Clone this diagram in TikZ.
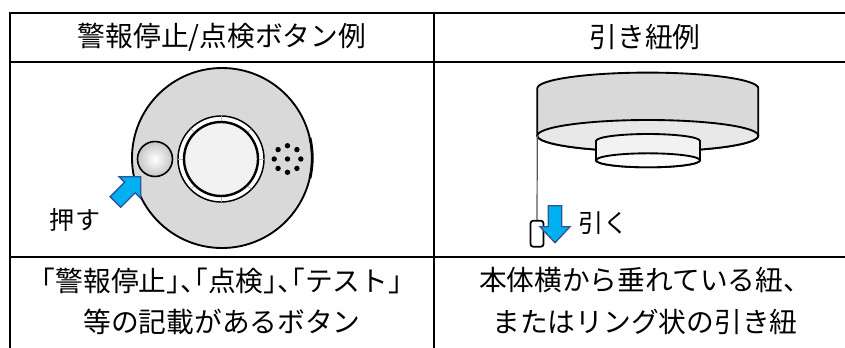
\documentclass[tikz,border=0pt]{standalone}
\usepackage{fontspec}
\setmainfont{Noto Sans CJK JP}
\newfontfamily\jphalt{Noto Sans CJK JP}[RawFeature=+halt]
\usepackage{xcolor}
\definecolor{pushblue}{RGB}{0,176,240}
\definecolor{pushedge}{RGB}{47,85,151}
\definecolor{bodygray}{RGB}{217,217,217}
\definecolor{facegray}{RGB}{232,232,232}
\definecolor{lensgray}{RGB}{242,242,242}
\definecolor{cordgray}{RGB}{89,89,89}

\begin{document}
\begin{tikzpicture}[x=0.75pt, y=-0.75pt,
  rule/.style={line width=2pt},
  cell/.style={font=\fontsize{20.8}{30.8}\selectfont, align=center, inner sep=0pt},
  cue/.style={font=\fontsize{18.8}{22}\selectfont, inner sep=0pt},
  outline/.style={draw=black, line width=1.4pt},
  blockarrow/.style={fill=pushblue, draw=pushedge, line width=1pt, line join=miter}]
\useasboundingbox (0,0) rectangle (845,347);

% table rules (right edge runs off the page)
\draw[rule] (10,350) -- (10,13) -- (860,13);
\draw[rule] (10,62) -- (860,62);
\draw[rule] (10,257) -- (860,257);
\draw[rule] (434,13) -- (434,350);

\node[cell] (hdrbtn) at (222,37) {警報停止/点検ボタン例};
\node[cell] (hdrcord) at (645,37) {引き紐例};
\node[cell] (txtbtn) at (222,301) {{\jphalt 「警報停止」、「点検」、「テスト」}\\等の記載があるボタン};
\node[cell] (txtcord) at (645,301) {本体横から垂れている紐、\\またはリング状の引き紐};

% detector seen from below
\draw[outline, fill=bodygray] (222,158) circle[radius=90];
\draw[line width=2pt] (222,158) ++(-13:90.3) arc[start angle=-13, end angle=13, radius=90.3];
\draw[line width=1.2pt, inner color=white, outer color=gray!45] (155,159) circle[radius=17.5];
\draw[line width=1.1pt, fill=white] (221,159) circle[radius=43];
\foreach \a in {0,45,...,315}
  \draw[gray!55, line width=0.7pt] (221,159) ++(\a:37.5) -- ++(\a:5.5);
\draw[line width=1.8pt, fill=lensgray] (221,159) circle[radius=37];
\fill (287.5,159) circle[radius=2.7];
\foreach \a in {0,45,...,315}
  \fill (287.5,159) ++(\a:13.3) circle[radius=2.7];
\draw[blockarrow] (110.1,196.7) -- (124.6,182.2) -- (119.1,176.7) -- (140.7,176.7)
  -- (140.7,198.3) -- (135.2,192.8) -- (120.7,207.3) -- cycle;
\node[cue] (push) at (75,220) {押す};

% ceiling unit with pull cord
\path[outline, fill=bodygray] (537.3,135.7) -- (537.3,88.3)
  arc[start angle=180, end angle=360, x radius=110.5, y radius=15.7] -- (758.3,135.7)
  arc[start angle=0, end angle=180, x radius=110.5, y radius=15.7] -- cycle;
\draw[outline, fill=facegray] (647.8,135.7) ellipse[x radius=110.5, y radius=15.7];
\draw[outline, fill=lensgray] (596,160.3) -- (596,141)
  arc[start angle=180, end angle=360, x radius=52, y radius=7] -- (700,160.3)
  arc[start angle=0, end angle=180, x radius=52, y radius=7] -- cycle;
\draw[outline, fill=gray!3] (648,160.3) ellipse[x radius=52, y radius=7];
\coordinate (cordtop) at (537.3,135.7);
\node[draw, line width=1.3pt, fill=white, rounded corners=2pt, inner sep=0pt,
  minimum width=9.75pt, minimum height=19.5pt] (tab) at (537,233.7) {};
\draw[cordgray, line width=0.9pt] (cordtop) -- (tab.north);
\draw[blockarrow] (548.3,205.7) -- (561.7,205.7) -- (561.7,226.7) -- (570,226.7)
  -- (555,242.7) -- (540,226.7) -- (548.3,226.7) -- cycle;
\node[cue] (pull) at (603.5,223.5) {引く};
\end{tikzpicture}
\end{document}
